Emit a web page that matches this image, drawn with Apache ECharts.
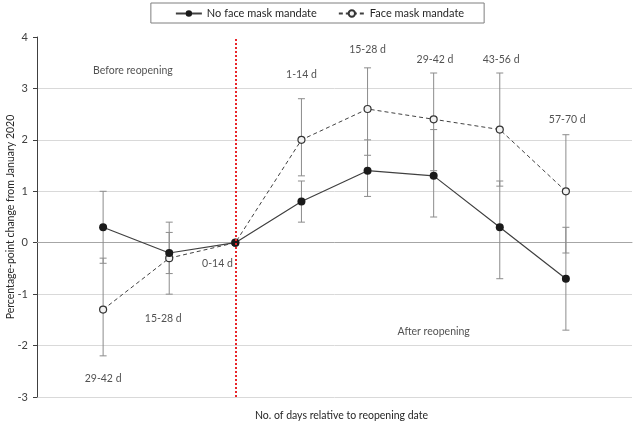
<!DOCTYPE html>
<html>
<head>
<meta charset="utf-8">
<script src="https://cdn.jsdelivr.net/npm/echarts@6/dist/echarts.min.js"></script>
<style>html,body{margin:0;padding:0;background:#fff}#c{width:639px;height:427px}</style>
</head>
<body>
<div id="c"></div>
<script>
// x positions of the eight periods (relative slots)
const xSlots = [1, 2, 3, 4, 5, 6, 7, 8];
const periodLabels = ['29-42 d', '15-28 d', '0-14 d', '1-14 d', '15-28 d', '29-42 d', '43-56 d', '57-70 d'];
// No face mask mandate
const noMask = [0.3, -0.2, 0, 0.8, 1.4, 1.3, 0.3, -0.7];
const noMaskLow = [-0.4, -0.6, 0, 0.4, 0.9, 0.5, -0.7, -1.7];
const noMaskHigh = [1.0, 0.2, 0, 1.2, 2.0, 2.2, 1.2, 0.3];
// Face mask mandate
const mask = [-1.3, -0.3, 0, 2.0, 2.6, 2.4, 2.2, 1.0];
const maskLow = [-2.2, -1.0, 0, 1.3, 1.7, 1.4, 1.1, -0.2];
const maskHigh = [-0.3, 0.4, 0, 2.8, 3.4, 3.3, 3.3, 2.1];
// period annotation placement (data coords)
const labelX = [1, 1.91, 2.73, 4, 5, 6.02, 7.02, 8.02];
const labelY = [-2.64, -1.48, -0.41, 3.27, 3.75, 3.56, 3.56, 2.39];
const phaseTexts = ['Before reopening', 'After reopening'];
const phaseX = [1.45, 6.0];
const phaseY = [3.34, -1.73];
const yTicks = [-3, -2, -1, 0, 1, 2, 3, 4];
const reopeningX = 3;

const FONT = 'Lato';
const TXT = 10.5;
const chart = echarts.init(document.getElementById('c'));

function errRender(params, api) {
  const x = api.value(0), lo = api.value(1), hi = api.value(2);
  if (lo === hi) return null;
  const a = api.coord([x, lo]), b = api.coord([x, hi]);
  const w = 3.5;
  const st = { stroke: '#8c8c8c', lineWidth: 1 };
  return {
    type: 'group',
    children: [
      { type: 'line', shape: { x1: a[0], y1: a[1], x2: b[0], y2: b[1] }, style: st },
      { type: 'line', shape: { x1: a[0] - w, y1: a[1], x2: a[0] + w, y2: a[1] }, style: st },
      { type: 'line', shape: { x1: b[0] - w, y1: b[1], x2: b[0] + w, y2: b[1] }, style: st }
    ]
  };
}

const annotations = periodLabels.map((t, i) => ({ value: [labelX[i], labelY[i]], name: t }))
  .concat(phaseTexts.map((t, i) => ({ value: [phaseX[i], phaseY[i]], name: t })));

chart.setOption({
  animation: false,
  textStyle: { fontFamily: FONT },
  grid: { left: 37, right: 7, top: 37, bottom: 30, containLabel: false, outerBoundsMode: 'none' },
  legend: {
    left: 'center', top: 3,
    data: ['No face mask mandate', 'Face mask mandate'],
    borderColor: '#7f7f7f', borderWidth: 1, borderRadius: 0,
    padding: [5, 20, 4, 24], itemGap: 21, itemWidth: 26, itemHeight: 8,
    textStyle: { fontSize: 11, color: '#262626', fontFamily: FONT }
  },
  xAxis: {
    type: 'value', min: 0, max: 9,
    axisLine: { onZero: true, lineStyle: { color: '#a6a6a6', width: 1 } },
    axisTick: { show: false }, axisLabel: { show: false }, splitLine: { show: false },
    name: 'No. of days relative to reopening date', nameLocation: 'middle', nameGap: 13,
    nameMoveOverlap: false,
    nameTextStyle: { fontSize: TXT, color: '#262626', padding: [0, 0, 0, 14] }
  },
  yAxis: {
    type: 'value', min: yTicks[0], max: yTicks[yTicks.length - 1], interval: 1,
    axisLine: { show: true, onZero: false, lineStyle: { color: '#404040', width: 1 } },
    axisTick: { show: true, length: 4, lineStyle: { color: '#404040' } },
    axisLabel: { fontSize: 11, color: '#404040', margin: 9 },
    splitLine: { show: true, showMaxLine: false, lineStyle: { color: '#d9d9d9', width: 1 } },
    name: 'Percentage-point change from January 2020', nameLocation: 'middle', nameGap: 21,
    nameMoveOverlap: false,
    nameTextStyle: { fontSize: TXT, color: '#262626' }
  },
  series: [
    {
      type: 'custom', name: 'errNoMask', renderItem: errRender, z: 1, silent: true,
      data: xSlots.map((x, i) => [x, noMaskLow[i], noMaskHigh[i]])
    },
    {
      type: 'custom', name: 'errMask', renderItem: errRender, z: 1, silent: true,
      data: xSlots.map((x, i) => [x, maskLow[i], maskHigh[i]])
    },
    {
      name: 'Face mask mandate', type: 'line', z: 3,
      data: xSlots.map((x, i) => [x, mask[i]]),
      symbol: 'circle', symbolSize: 7,
      lineStyle: { color: '#404040', width: 1, type: [4, 3] },
      itemStyle: { color: '#f2f2f2', borderColor: '#333', borderWidth: 1.2 }
    },
    {
      name: 'No face mask mandate', type: 'line', z: 4,
      data: xSlots.map((x, i) => [x, noMask[i]]),
      symbol: 'circle', symbolSize: 8,
      lineStyle: { color: '#404040', width: 1.2 },
      itemStyle: { color: '#1a1a1a', borderColor: '#1a1a1a', borderWidth: 0 },
      markLine: {
        silent: true, symbol: 'none', label: { show: false },
        lineStyle: { color: '#e8252a', type: [2, 2], width: 2 },
        data: [{ xAxis: reopeningX }]
      }
    },
    {
      type: 'scatter', name: 'annotations', symbolSize: 0, silent: true, z: 5,
      data: annotations,
      label: {
        show: true, position: 'inside', formatter: p => p.name,
        fontSize: TXT, color: '#262626', fontFamily: FONT
      }
    }
  ]
});
</script>
</body>
</html>
